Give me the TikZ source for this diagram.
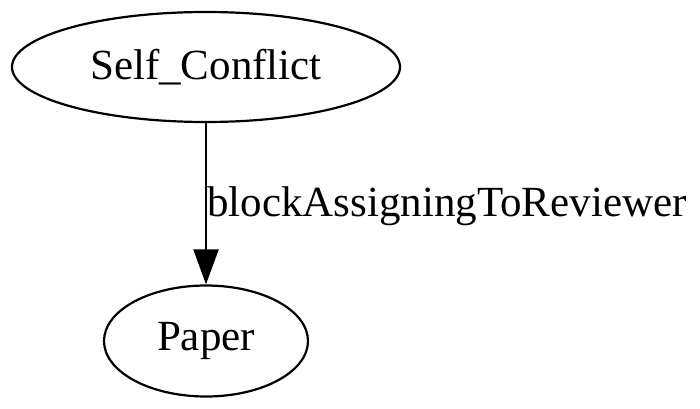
\documentclass[tikz,border=0pt]{standalone}
\usepackage{fontspec}
\setmainfont{Liberation Serif}
\usepackage{tikz}
\usetikzlibrary{arrows.meta,shapes.geometric}

\begin{document}
\begin{tikzpicture}[line cap=round,line join=round,>={Triangle[length=35pt,width=25pt]},x=1pt,y=1pt,
    state/.style={draw,ellipse,line width=2.2pt,inner sep=0pt,font=\fontsize{43}{52}\selectfont},
    elabel/.style={font=\fontsize{43}{52}\selectfont,inner sep=0pt}]
            \useasboundingbox (0,0) rectangle (700,408);
            \node[state,minimum width=388pt,minimum height=110pt] (self) at (206,341) {Self\_Conflict};
            \node[state,minimum width=204pt,minimum height=111pt] (paper) at (206,67) {Paper};
            \draw [line width=2.2pt,->] (self) -- node[elabel,anchor=base west,yshift=-13pt] (lbl) {blockAssigningToReviewer} (paper);
            \end{tikzpicture}
\end{document}
